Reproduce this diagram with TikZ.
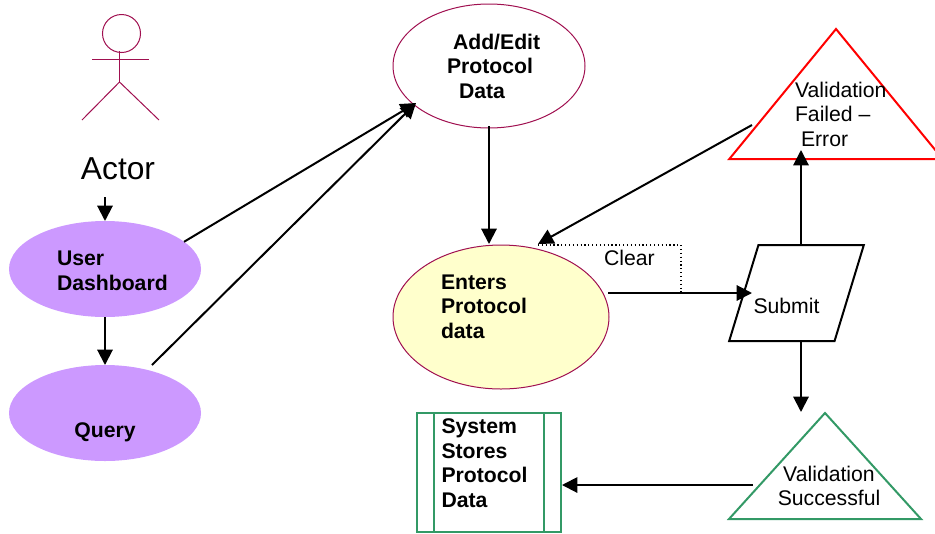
\documentclass[tikz,border=0pt]{standalone}
\usepackage{fontspec}
\usepackage{tikz}
\usetikzlibrary{arrows.meta,calc,shapes.geometric}
\setmainfont{Liberation Sans}
\definecolor{maroonline}{HTML}{A01050}
\definecolor{greenline}{HTML}{339966}
\definecolor{purplefill}{HTML}{CC99FF}
\definecolor{yellowfill}{HTML}{FFFFCC}
\tikzset{
	flow/.style={line width=1.5pt,-{Triangle[length=11.5pt,width=11.5pt]}},
	usecase/.style={ellipse,inner sep=0pt,outer sep=0pt,minimum width=144pt,minimum height=72pt},
	purplecase/.style={usecase,fill=purplefill},
	bodytext/.style={inner sep=0pt,outer sep=0pt,align=left,font=\fontsize{15.9}{18.4}\selectfont},
	boldtext/.style={bodytext,font=\fontsize{15.9}{18.4}\selectfont\bfseries},
	check/.style={isosceles triangle,isosceles triangle stretches,shape border rotate=90,anchor=apex,inner sep=0pt,outer sep=0pt,line width=1.5pt},
	actorline/.style={draw=maroonline,line width=.75pt}
}
\begin{document}
\begin{tikzpicture}[x=.75pt,y=-.75pt]
	\useasboundingbox (0,0) rectangle (935,533);
	\node[actorline,circle,inner sep=0pt,outer sep=0pt,minimum size=28.5pt] (head) at (121.5,33.5) {};
	\draw[actorline] (119.5,51) -- (119.5,82);
	\draw[actorline] (92,59.5) -- (149,59.5);
	\draw[actorline] (82,120) -- (119.5,82) -- (159,120);
	\node[inner sep=0pt,font=\fontsize{23.8}{28}\selectfont] (actor) at (118,169) {Actor};
	\node[purplecase] (user) at (105,269) {};
	\node[purplecase] (query) at (105,413) {};
	\node[boldtext,anchor=west] (usertext) at (57,271) {User\\Dashboard};
	\node[boldtext] (querytext) at (105,432.5) {Query};
	\node[usecase,draw=maroonline,line width=.75pt,minimum height=93pt] (addedit) at (489,66) {};
	\node[boldtext,anchor=west] (addedittext) at (447,66) {\hspace*{4.5pt}Add/Edit\\Protocol\\\hspace*{9pt}Data};
	\node[usecase,draw=maroonline,fill=yellowfill,line width=.75pt,minimum width=162pt,minimum height=108pt] (enters) at (501,317) {};
	\node[boldtext,anchor=west] (enterstext) at (441,306.5) {Enters\\Protocol\\data};
	\node[check,draw=red,minimum width=160pt,minimum height=97.5pt] (failed) at (836,29) {\phantom{x}};
	\node[bodytext,anchor=west] (failedtext) at (795,114) {Validation\\Failed --\\\hspace*{4.5pt}Error};
	\node[trapezium,trapezium left angle=70,trapezium right angle=110,trapezium stretches,draw=black,line width=1.5pt,inner sep=0pt,outer sep=0pt,minimum width=101pt,minimum height=72pt] (submit) at (796.5,293) {\phantom{x}};
	\node[bodytext,anchor=west] (submittext) at (753.5,306) {Submit};
	\node[check,draw=greenline,minimum width=144pt,minimum height=79.5pt] (success) at (825,413) {\phantom{x}};
	\node[bodytext,align=center] (successtext) at (829,486) {Validation\\Successful};
	\node[draw=greenline,line width=1.5pt,inner sep=0pt,outer sep=0pt,minimum width=108pt,minimum height=89pt] (store) at (489,472.5) {};
	\foreach \a in {17,127}
	\draw[greenline,line width=1.5pt] ($(store.north west)+(\a,0)$) -- ($(store.south west)+(\a,0)$);
	\node[boldtext,anchor=west] (storetext) at (441.5,463) {System\\Stores\\Protocol\\Data};
	\node[bodytext,anchor=west] (clear) at (604,258) {Clear};
	\coordinate (actorfoot) at (105,197);
	\coordinate (querytail) at (152,365);
	\coordinate (addeditin) at (416,103);
	\coordinate (addeditout) at (489,126);
	\coordinate (enterstop) at (489,244);
	\coordinate (entersin) at (538,244);
	\coordinate (entersout) at (608,293);
	\coordinate (submitin) at (752,293);
	\coordinate (failedout) at (752,125);
	\coordinate (failedin) at (801,150);
	\coordinate (submittop) at (801,245);
	\coordinate (submitbottom) at (801,341);
	\coordinate (successin) at (801,412);
	\coordinate (successout) at (753,485);
	\coordinate (storein) at (562,485);
	\coordinate (clearcorner) at (681,245);
	\coordinate (cleardown) at (681,293);
	\draw[flow] (actorfoot) -- (user.north);
	\draw[flow] (user.south) -- (query.north);
	\draw[flow] (user.19.5) -- (addeditin);
	\draw[flow] (querytail) -- (addeditin);
	\draw[flow] (addeditout) -- (enterstop);
	\draw[flow] (failedout) -- (entersin);
	\draw[flow] (entersout) -- (submitin);
	\draw[flow] (submittop) -- (failedin);
	\draw[flow] (submitbottom) -- (successin);
	\draw[flow] (successout) -- (storein);
	\draw[dotted,line width=.9pt] (entersin |- clearcorner) -- (clearcorner) -- (cleardown);
\end{tikzpicture}
\end{document}
